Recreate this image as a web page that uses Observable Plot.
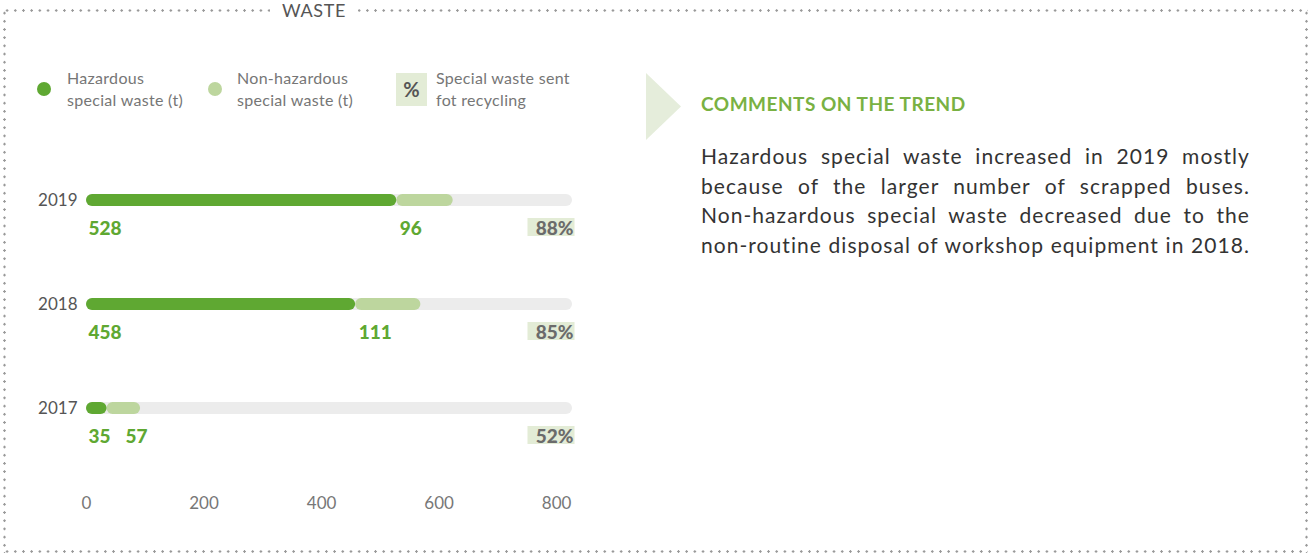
<!DOCTYPE html>
<html>
<head>
<meta charset="utf-8">
<script src="https://cdn.jsdelivr.net/npm/d3@7"></script>
<script src="https://cdn.jsdelivr.net/npm/@observablehq/plot@0.6"></script>
<style>
  html, body { margin: 0; padding: 0; background: #fff; }
  body { width: 1312px; height: 554px; overflow: hidden; font-family: Lato, "Open Sans", sans-serif; }
  #page { position: relative; width: 1312px; height: 554px; }
  #frame {
    position: absolute; left: 3px; top: 9px; width: 1305px; height: 544px;
    background:
      radial-gradient(circle, #999 1px, transparent 1.4px) 0 0 / 8.2px 3px repeat-x,
      radial-gradient(circle, #999 1px, transparent 1.4px) 0 100% / 8.2px 3px repeat-x,
      radial-gradient(circle, #999 1px, transparent 1.4px) 0 0 / 3px 8.2px repeat-y,
      radial-gradient(circle, #999 1px, transparent 1.4px) 100% 0 / 3px 8.2px repeat-y;
  }
  #title {
    position: absolute; left: 270px; top: 1px; width: 88px; text-align: center;
    background: #fff; color: #555; font-size: 18px; letter-spacing: 0.6px; line-height: 18px;
  }
  .leg { position: absolute; top: 67px; font-size: 16px; line-height: 22px; color: #767676; letter-spacing: 0.3px; }
  .dot { position: absolute; width: 14px; height: 14px; border-radius: 50%; }
  #pctbox { position: absolute; left: 396px; top: 73px; width: 31px; height: 33px; background: #e3ecd6;
    color: #555; font-weight: 700; font-size: 20px; line-height: 33px; text-align: center; }
  #tri { position: absolute; left: 646px; top: 73px; width: 35px; height: 67px; background: #e5eddb;
    clip-path: polygon(0 0, 100% 50%, 0 100%); }
  #ctitle { position: absolute; left: 701px; top: 93px; color: #79b143; font-weight: 700; font-size: 19px; line-height: 22px; letter-spacing: 0.5px; }
  #ctext { position: absolute; left: 701px; top: 141px; width: 549px; color: #333; font-size: 21px; line-height: 29.5px; letter-spacing: 1.05px; }
  #ctext div { text-align: justify; text-align-last: justify; white-space: nowrap; }
  #chart { position: absolute; left: 0; top: 140px; }
</style>
</head>
<body>
<div id="page">
  <div id="frame"></div>
  <div id="title">WASTE</div>

  <div class="dot" style="left:37px; top:82px; background:#5fa832;"></div>
  <div class="leg" style="left:67px;">Hazardous<br>special waste (t)</div>
  <div class="dot" style="left:208px; top:82px; background:#bdd69e;"></div>
  <div class="leg" style="left:237px;">Non-hazardous<br>special waste (t)</div>
  <div id="pctbox">%</div>
  <div class="leg" style="left:436px;">Special waste sent<br>fot recycling</div>

  <div id="tri"></div>
  <div id="ctitle">COMMENTS ON THE TREND</div>
  <div id="ctext">
    <div>Hazardous special waste increased in 2019 mostly</div>
    <div>because of the larger number of scrapped buses.</div>
    <div>Non-hazardous special waste decreased due to the</div>
    <div>non-routine disposal of workshop equipment in 2018.</div>
  </div>

  <div id="chart"></div>
</div>
<script>
const years = ["2019", "2018", "2017"];
const hazardous = [528, 458, 35];
const nonHazardous = [96, 111, 57];
const recycledPct = [88, 85, 52];
const xTicks = [0, 200, 400, 600, 800];
const trackMax = 827;

const hazColor = "#5fa832";
const nonColor = "#bdd69e";
const trackColor = "#ececec";

// keep the non-hazardous label clear of the hazardous label when the hazardous bar is short
const xRange = [86, 572];
const pxPerUnit = (xRange[1] - xRange[0]) / trackMax;
const minLabelGap = 36; // px taken by a 2-3 digit label plus spacing

const data = years.map((year, i) => ({
  year,
  haz: hazardous[i],
  non: nonHazardous[i],
  total: hazardous[i] + nonHazardous[i],
  pct: recycledPct[i] + "%",
  max: trackMax,
  nonLabelX: Math.max(hazardous[i], minLabelGap / pxPerUnit)
}));

const boxSymbol = {
  draw(context) { context.rect(-24, -9.5, 47, 18); }
};

const chart = Plot.plot({
  width: 620,
  height: 390,
  marginLeft: 86,
  marginBottom: 40,
  marginTop: 0,
  marginRight: 0,
  x: { domain: [0, trackMax], range: xRange },
  y: { type: "band", domain: years, range: [7, 320], padding: 0 },
  style: { fontFamily: "Lato, sans-serif", background: "transparent", overflow: "visible" },
  marks: [
    Plot.barX(data, { y: "year", x1: 0, x2: "max", fill: trackColor, rx: 6, insetTop: 46, insetBottom: 46 }),
    Plot.barX(data, { y: "year", x1: "haz", x2: "total", fill: nonColor, rx: 6, insetTop: 46, insetBottom: 46 }),
    Plot.barX(data, { y: "year", x1: 0, x2: "haz", fill: hazColor, rx: 6, insetTop: 46, insetBottom: 46 }),
    Plot.text(data, { x: 0, y: "year", text: d => String(d.haz), textAnchor: "start", dx: 2, dy: 28,
      fill: hazColor, fontSize: 19, fontWeight: 900, letterSpacing: 0.6 }),
    Plot.text(data, { x: "nonLabelX", y: "year", text: d => String(d.non), textAnchor: "start", dx: 3, dy: 28,
      fill: hazColor, fontSize: 19, fontWeight: 900, letterSpacing: 0.6 }),
    Plot.dot(data, { x: "max", y: "year", symbol: boxSymbol, fill: "#e3ecd6", dx: -21, dy: 27, r: 10 }),
    Plot.text(data, { x: "max", y: "year", text: "pct", textAnchor: "end", dx: 1, dy: 28,
      fill: "#6b6b6b", fontSize: 19, fontWeight: 900, letterSpacing: 0.8 }),
    Plot.axisX({ ticks: xTicks, tickSize: 0, tickPadding: 6, fontSize: 17, color: "#777", label: null, anchor: "bottom" }),
    Plot.axisY({ tickSize: 0, tickPadding: 9, fontSize: 17, color: "#555", label: null, anchor: "left" })
  ]
});
document.getElementById("chart").appendChild(chart);
</script>
</body>
</html>
